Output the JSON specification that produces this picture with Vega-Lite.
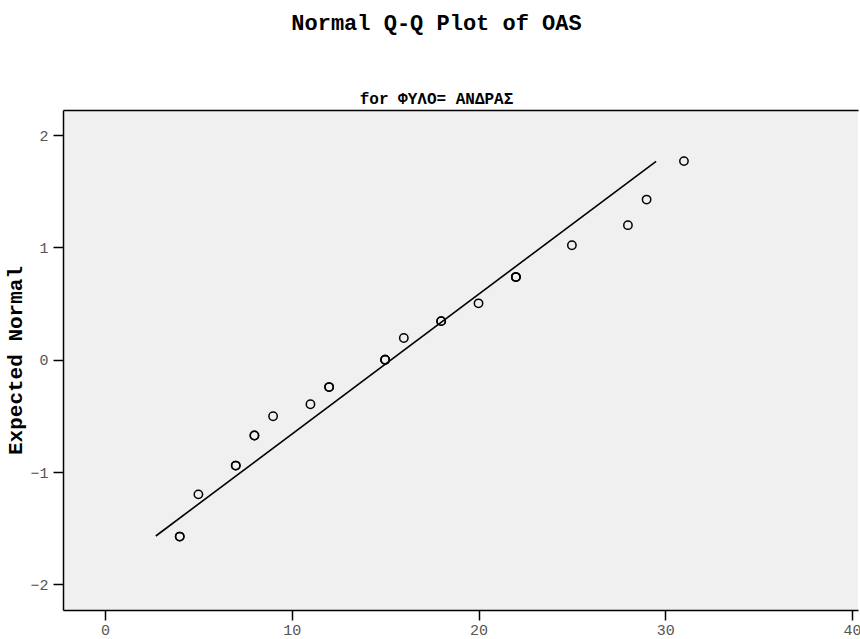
{
  "$schema": "https://vega.github.io/schema/vega-lite/v6.json",
  "width": 795,
  "height": 500,
  "autosize": "none",
  "padding": {"left": 63, "top": 110, "right": 2, "bottom": 29},
  "background": "#ffffff",
  "title": {
    "text": "Normal Q-Q Plot of OAS",
    "subtitle": "for ΦΥΛΟ= ΑΝΔΡΑΣ",
    "anchor": "middle",
    "dx": -24,
    "offset": 2,
    "font": "Liberation Mono",
    "fontSize": 22,
    "fontWeight": "bold",
    "color": "#000000",
    "subtitleFont": "Liberation Mono",
    "subtitleFontSize": 16,
    "subtitleFontWeight": "bold",
    "subtitleColor": "#000000",
    "subtitlePadding": 56
  },
  "config": {
    "view": {"fill": "#f0f0f0", "stroke": null},
    "axis": {
      "grid": false,
      "domainColor": "#000000",
      "domainWidth": 1.5,
      "tickColor": "#000000",
      "tickWidth": 1.5,
      "tickSize": 10,
      "labelFont": "Liberation Mono",
      "labelFontSize": 15,
      "labelColor": "#555555",
      "labelFlush": false,
      "labelOverlap": false
    }
  },
  "data": {
    "values": [
      {"oas": 4, "expected": -1.5745},
      {"oas": 4, "expected": -1.5745},
      {"oas": 5, "expected": -1.1984},
      {"oas": 7, "expected": -0.9421},
      {"oas": 7, "expected": -0.9421},
      {"oas": 8, "expected": -0.6745},
      {"oas": 8, "expected": -0.6745},
      {"oas": 9, "expected": -0.5024},
      {"oas": 11, "expected": -0.3957},
      {"oas": 12, "expected": -0.2434},
      {"oas": 12, "expected": -0.2434},
      {"oas": 15, "expected": 0},
      {"oas": 15, "expected": 0},
      {"oas": 15, "expected": 0},
      {"oas": 16, "expected": 0.194},
      {"oas": 18, "expected": 0.3441},
      {"oas": 18, "expected": 0.3441},
      {"oas": 20, "expected": 0.5024},
      {"oas": 22, "expected": 0.7363},
      {"oas": 22, "expected": 0.7363},
      {"oas": 22, "expected": 0.7363},
      {"oas": 25, "expected": 1.0201},
      {"oas": 28, "expected": 1.1984},
      {"oas": 29, "expected": 1.4261},
      {"oas": 31, "expected": 1.7688}
    ]
  },
  "resolve": {"axis": {"x": "independent"}},
  "layer": [
    {
      "data": {
        "values": [
          {"oas": 2.72, "expected": -1.569},
          {"oas": 29.51, "expected": 1.767}
        ]
      },
      "mark": {"type": "line", "color": "#000000", "strokeWidth": 1.6},
      "encoding": {
        "x": {
          "field": "oas",
          "type": "quantitative",
          "scale": {"domain": [-2.25, 40.32], "nice": false, "zero": false},
          "axis": {"orient": "top", "title": null, "labels": false, "ticks": false, "domain": true}
        },
        "y": {
          "field": "expected",
          "type": "quantitative",
          "scale": {"domain": [-2.228, 2.224], "nice": false, "zero": false}
        }
      }
    },
    {
      "mark": {"type": "point", "shape": "circle", "filled": false, "stroke": "#000000", "strokeWidth": 1.5, "size": 70, "opacity": 1},
      "encoding": {
        "x": {
          "field": "oas",
          "type": "quantitative",
          "scale": {"domain": [-2.25, 40.32], "nice": false, "zero": false},
          "axis": {"orient": "bottom", "title": null, "values": [0, 10, 20, 30, 40], "format": "d", "labelPadding": 2}
        },
        "y": {
          "field": "expected",
          "type": "quantitative",
          "scale": {"domain": [-2.228, 2.224], "nice": false, "zero": false},
          "axis": {
            "title": "Expected Normal",
            "values": [-2, -1, 0, 1, 2],
            "format": "d",
            "labelPadding": 5,
            "titleFont": "Liberation Mono",
            "titleFontSize": 21,
            "titleFontWeight": "bold",
            "titleColor": "#000000",
            "titlePadding": 4
          }
        }
      }
    }
  ]
}
